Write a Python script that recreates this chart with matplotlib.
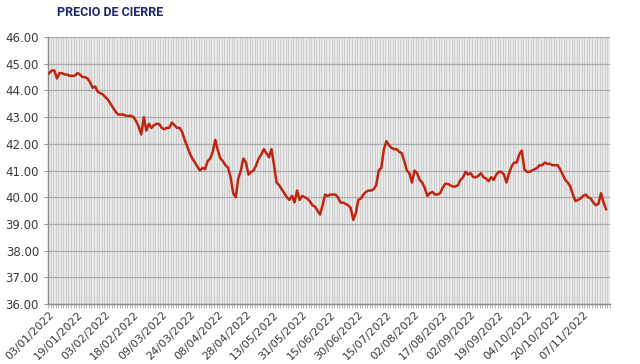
import matplotlib
matplotlib.use("Agg")
import matplotlib.pyplot as plt
import numpy as np

# closing prices (one per trading session)
precios = [
    44.65, 44.75, 44.75, 44.45, 44.65, 44.65, 44.60, 44.60, 44.55, 44.55,
    44.55, 44.65, 44.60, 44.50, 44.50, 44.45, 44.30, 44.10, 44.15, 43.95,
    43.90, 43.85, 43.75, 43.65, 43.50, 43.35, 43.20, 43.10, 43.10, 43.10,
    43.05, 43.05, 43.05, 43.00, 42.85, 42.65, 42.35, 43.00, 42.50, 42.75,
    42.60, 42.70, 42.75, 42.75, 42.60, 42.55, 42.60, 42.60, 42.80, 42.70,
    42.60, 42.60, 42.45, 42.15, 41.90, 41.65, 41.45, 41.30, 41.15, 41.00,
    41.10, 41.05, 41.35, 41.45, 41.70, 42.15, 41.75, 41.45, 41.35, 41.20,
    41.10, 40.75, 40.15, 40.00, 40.70, 41.00, 41.45, 41.30, 40.85, 40.95,
    41.00, 41.20, 41.45, 41.60, 41.80, 41.65, 41.50, 41.80, 41.20, 40.55,
    40.45, 40.30, 40.15, 40.00, 39.90, 40.05, 39.80, 40.25, 39.90, 40.05,
    40.00, 39.95, 39.85, 39.70, 39.65, 39.50, 39.35, 39.70, 40.10, 40.05,
    40.10, 40.10, 40.10, 40.00, 39.80, 39.80, 39.75, 39.70, 39.60, 39.15,
    39.40, 39.90, 39.95, 40.10, 40.20, 40.25, 40.25, 40.30, 40.45, 41.00,
    41.10, 41.80, 42.10, 41.95, 41.85, 41.80, 41.80, 41.70, 41.65, 41.35,
    41.00, 40.90, 40.55, 41.00, 40.90, 40.65, 40.55, 40.35, 40.05, 40.15,
    40.20, 40.10, 40.10, 40.15, 40.35, 40.50, 40.50, 40.45, 40.40, 40.40,
    40.45, 40.65, 40.75, 40.95, 40.85, 40.90, 40.75, 40.75, 40.80, 40.90,
    40.75, 40.70, 40.60, 40.75, 40.65, 40.85, 40.95, 40.95, 40.85, 40.55,
    40.90, 41.15, 41.30, 41.30, 41.60, 41.75, 41.05, 40.95, 40.95, 41.00,
    41.05, 41.10, 41.20, 41.20, 41.30, 41.25, 41.25, 41.20, 41.20, 41.20,
    41.05, 40.85, 40.65, 40.55, 40.40, 40.10, 39.85, 39.90, 39.95, 40.05,
    40.10, 40.00, 39.95, 39.80, 39.70, 39.75, 40.15, 39.80, 39.55,
]

etiquetas = [
    "03/01/2022", "19/01/2022", "03/02/2022", "18/02/2022", "09/03/2022",
    "24/03/2022", "08/04/2022", "28/04/2022", "13/05/2022", "31/05/2022",
    "15/06/2022", "30/06/2022", "15/07/2022", "02/08/2022", "17/08/2022",
    "02/09/2022", "19/09/2022", "04/10/2022", "20/10/2022", "07/11/2022",
]
paso_etiqueta = 11
n_categorias = 220

fig = plt.figure(figsize=(6.4, 3.64), dpi=100)
ax = fig.add_axes([0.075, 0.165, 0.878, 0.733])
ax.set_facecolor("#e8e8e8")

x = np.arange(len(precios))
ax.plot(x, precios, color="#c0250f", lw=1.8, solid_joinstyle="round", zorder=3)

ax.set_xlim(-0.5, n_categorias - 0.5)
ax.set_ylim(36, 46)
ax.set_yticks(np.arange(36, 46.01, 1))
ax.set_yticklabels([f"{v:.2f}" for v in np.arange(36, 46.01, 1)])

ax.set_xticks(np.arange(len(etiquetas)) * paso_etiqueta)
ax.set_xticklabels(etiquetas, rotation=45, ha="right", rotation_mode="anchor")
ax.set_xticks(np.arange(-0.5, n_categorias, 1), minor=True)

# dense vertical grid (one per session) + horizontal grid
ax.grid(which="minor", axis="x", color="#c6c6c6", lw=0.5)
ax.grid(which="major", axis="y", color="#acacac", lw=0.9)
ax.set_axisbelow(True)

ax.tick_params(axis="x", which="major", length=0, pad=4, labelsize=8, labelcolor="#3a3a3a")
ax.tick_params(axis="x", which="minor", length=3, color="#999999", width=0.5)
ax.tick_params(axis="y", length=3, color="#999999", labelsize=8.5, labelcolor="#3a3a3a")

for s in ["top", "right"]:
    ax.spines[s].set_visible(False)
for s in ["left", "bottom"]:
    ax.spines[s].set_color("#8c8c8c")
    ax.spines[s].set_linewidth(1.0)

fig.text(0.089, 0.967, "PRECIO DE CIERRE", fontsize=9, fontweight="bold",
         family=["Roboto", "DejaVu Sans"], color="#1f2a6b", ha="left", va="center")

fig.savefig("out.png", dpi=100, facecolor="white")
